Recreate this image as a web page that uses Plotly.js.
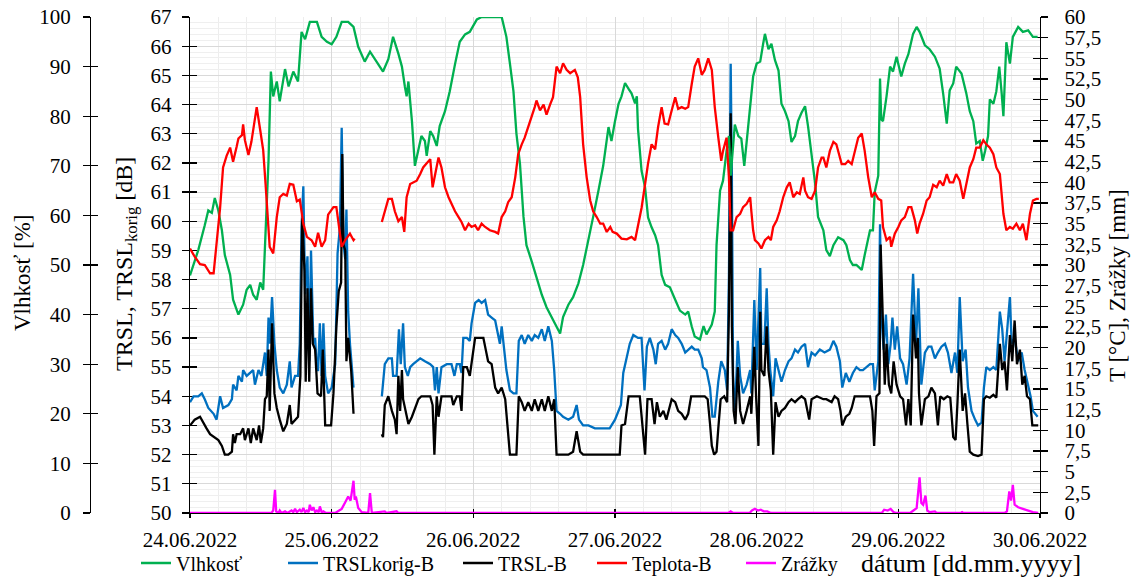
<!DOCTYPE html>
<html><head><meta charset="utf-8">
<script src="https://cdn.plot.ly/plotly-3.0.1.min.js"></script>
<style>body{margin:0;background:#fff}#chart{width:1138px;height:579px}</style>
</head><body><div id="chart"></div><script>
// hours since 24.06.2022 00:00 , value
const humidity = [[0,47.9],[1.4,53],[2.5,58],[3.1,61],[3.7,60.5],[4.2,63.5],[4.8,61],[5.4,57],[5.9,52],[6.8,48],[7.3,43],[8.2,40],[9.0,42],[9.6,45],[10.2,46],[10.7,44],[11.3,43],[11.9,46.5],[12.4,45],[12.7,54],[13.3,71],[13.7,89],[14.1,84],[14.7,87],[15.2,83],[16.1,89.5],[16.7,86],[17.5,89],[18.3,87],[18.9,97],[19.5,95.5],[20.3,99],[21.5,99],[22.3,96],[23.2,95],[24.0,94.5],[24.8,96],[25.7,99],[26.8,99],[27.7,98],[28.5,94],[29.6,91],[30.5,93],[31.6,91],[32.7,89],[33.6,91.5],[34.4,96],[35.3,92.6],[35.9,90],[36.4,86],[36.7,84],[37.0,87],[37.6,79],[38.1,70],[38.7,73],[39.2,76],[39.8,75],[40.1,72],[40.7,77],[41.2,76],[41.8,74],[42.3,78],[43.2,81],[44.0,85],[44.9,90.5],[45.7,95],[46.6,96.5],[47.4,97],[48.6,99.5],[49.4,100],[52.8,100],[53.6,96],[54.2,90.6],[54.8,85],[55.3,76.5],[55.9,70.4],[56.5,59.7],[57.0,54],[57.9,50.7],[58.7,47.5],[59.6,44],[60.4,41.5],[61.3,39.5],[62.1,37.6],[62.7,36.2],[63.2,39.5],[64.1,42],[64.9,43.5],[65.8,46.3],[66.6,50],[67.5,54.8],[68.3,59.7],[69.2,65],[70.0,70],[70.9,77.8],[71.4,75],[72.0,79],[72.6,82.5],[73.1,84],[73.7,86.7],[74.3,85.5],[74.8,84.6],[75.4,82.6],[75.7,84],[75.9,77.4],[76.5,69],[77.1,65.6],[77.6,59.6],[78.2,57.6],[78.8,56],[79.3,54],[79.9,48],[80.5,46],[81.3,45.5],[82.2,43],[83.0,40.8],[83.9,40],[84.4,40.6],[85.0,37.6],[85.5,35.6],[86.4,35],[87.0,37.7],[87.5,36],[88.4,38],[88.9,40.6],[89.2,54],[89.8,65],[90.3,67],[90.9,73],[91.3,76],[91.6,68],[92.3,78.3],[92.9,76],[93.4,75.5],[93.9,70],[94.6,78],[95.4,88],[96.0,90.6],[96.6,91],[97.1,94.6],[97.4,96.6],[98.0,93.5],[98.5,94.6],[99.1,91.3],[99.7,89.2],[100.2,82.5],[100.8,81],[101.4,79],[101.9,74.8],[102.5,76],[103.0,79],[103.6,80.7],[104.2,82],[104.7,78],[105.3,72],[105.9,66.5],[106.4,59.7],[107.3,57],[107.8,53],[108.4,51.8],[109.0,54],[109.8,55.6],[110.7,55],[111.2,54],[111.8,51],[112.3,50],[112.9,50],[113.8,49],[114.3,52],[115.2,57],[115.7,57],[116.0,64.7],[116.6,68],[116.9,87.6],[117.1,79.4],[117.4,79],[118.0,84],[118.6,90],[119.1,89],[119.7,92],[120.5,88],[121.1,90.6],[121.7,92.5],[122.5,96.6],[123.1,98],[123.6,97],[124.5,94.3],[125.3,93.5],[126.2,92],[127.0,89.6],[127.6,84.5],[128.2,78.5],[128.7,85.2],[129.3,86.6],[129.8,90],[130.7,88.6],[131.5,84.7],[132.1,81],[132.7,79],[133.2,74.5],[133.8,75],[134.3,71],[134.7,73],[135.2,76],[135.5,83.4],[136.1,82.5],[136.6,85],[137.1,90],[137.5,84.7],[137.8,80],[138.3,94.9],[138.9,90.6],[139.4,96],[140.3,98],[141.1,97],[142.0,97.3],[142.8,96],[143.6,96]];

const trslKorig = [[0,53.8],[0.6,54.0],[1.4,54.0],[2.0,54.1],[2.5,53.9],[3.1,53.6],[4.0,53.4],[4.5,53.2],[4.8,53.6],[5.1,54.0],[5.6,53.6],[6.5,53.7],[7.1,53.9],[7.3,54.4],[7.9,54.2],[8.2,54.7],[8.8,54.5],[9.0,54.9],[9.6,54.7],[10.2,54.8],[10.7,54.9],[11.0,54.4],[11.6,54.9],[12.1,54.7],[12.7,55.5],[13.0,54.7],[13.3,56.7],[13.5,55.8],[13.9,57.4],[14.3,55.8],[14.7,54.9],[15.2,54.3],[15.8,54.1],[16.4,54.4],[16.9,55.2],[17.2,54.3],[17.8,54.7],[18.3,54.7],[18.6,55.8],[18.9,59.8],[19.2,61.2],[19.5,57.5],[19.9,58.8],[20.2,55.2],[20.5,59.0],[20.9,55.8],[21.2,56.0],[21.5,54.9],[21.7,54.9],[22.0,56.5],[22.3,54.7],[22.6,56.5],[22.9,54.7],[23.4,54.1],[24.0,54.3],[24.6,55.1],[25.0,58.9],[25.4,59.8],[25.7,63.2],[26.0,59.2],[26.3,58.7],[26.5,60.4],[26.8,56.9],[27.1,55.8],[27.7,54.3],[30,null],[32.5,54.0],[33.0,55.1],[33.6,55.3],[34.2,55.3],[34.4,54.7],[35.0,54.7],[35.4,56.3],[35.7,55.1],[36.1,56.5],[36.4,55.0],[36.9,54.7],[37.3,55.0],[37.8,55.1],[38.4,55.2],[39.0,55.3],[39.8,55.2],[40.7,55.1],[41.2,55.0],[41.5,54.2],[41.8,55.0],[42.1,54.1],[42.6,55.0],[43.5,55.1],[44.3,55.1],[44.8,54.7],[45.2,55.1],[45.7,55.1],[46.0,54.8],[46.3,56.0],[46.9,56.0],[47.4,55.9],[47.7,56.5],[48.3,57.2],[48.9,57.3],[49.4,57.2],[50.0,57.3],[50.5,56.8],[51.1,56.7],[51.7,56.6],[52.0,56.3],[52.5,55.8],[52.8,56.4],[53.1,55.8],[53.6,54.9],[54.2,54.2],[54.8,54.1],[55.3,54.1],[55.7,55.9],[56.2,56.1],[56.7,55.8],[57.3,56.1],[57.9,55.9],[58.4,56.1],[59.0,56.0],[59.6,56.3],[60.1,55.9],[60.7,56.4],[61.3,55.9],[61.7,54.9],[62.1,53.5],[62.7,53.4],[63.2,53.3],[64.1,53.2],[64.9,53.3],[65.5,53.7],[65.9,53.2],[66.6,53.0],[67.5,53.0],[68.6,52.9],[69.7,52.9],[71.1,52.9],[72.0,53.2],[72.6,53.5],[73.0,53.7],[73.4,54.8],[74.0,55.3],[74.5,55.8],[75.1,56.1],[75.9,56.0],[76.5,56.0],[77.0,54.2],[77.4,55.7],[77.9,56.0],[78.5,55.6],[78.9,55.1],[79.3,55.8],[79.9,55.9],[80.5,55.6],[81.0,55.8],[81.6,56.3],[82.2,56.1],[82.7,56.0],[83.3,55.8],[83.9,55.5],[84.4,55.6],[85.0,55.7],[85.5,55.6],[86.1,55.6],[86.7,55.3],[86.9,55.0],[87.5,54.9],[88.1,54.3],[88.5,53.3],[88.9,53.3],[89.5,54.5],[90.0,55.2],[90.6,54.9],[91.0,54.2],[91.3,58.1],[91.6,65.4],[91.8,61.5],[92.0,54.7],[92.3,53.3],[92.8,55.9],[93.2,54.7],[93.7,54.1],[94.3,54.4],[94.9,54.9],[95.1,54.1],[95.6,57.3],[96.0,54.9],[96.6,58.4],[96.8,55.8],[97.3,55.8],[97.7,57.7],[98.0,55.8],[98.3,54.9],[98.8,54.0],[99.2,55.3],[99.7,54.9],[100.2,54.5],[100.8,54.9],[101.4,55.2],[101.9,55.3],[102.5,55.6],[103.0,55.5],[103.6,55.7],[104.2,55.8],[104.7,55.0],[105.3,55.5],[105.9,55.4],[106.7,55.6],[107.5,55.5],[108.4,55.6],[109.0,55.9],[109.5,55.7],[110.1,55.2],[110.5,54.3],[111.1,54.8],[111.7,54.5],[112.3,54.8],[112.9,55.0],[113.5,54.9],[114.0,54.9],[114.6,55.0],[115.2,55.1],[115.7,55.1],[116.0,54.2],[116.6,55.2],[116.9,59.9],[117.1,56.9],[117.5,55.6],[117.9,56.8],[118.3,55.1],[118.7,55.8],[119.0,56.7],[119.4,55.6],[119.8,56.4],[120.3,55.3],[120.8,55.1],[121.4,54.4],[121.9,55.3],[122.5,58.2],[123.0,55.8],[123.4,57.7],[123.9,54.4],[124.5,55.5],[125.1,55.7],[125.6,55.7],[126.2,55.3],[126.7,55.5],[127.3,55.7],[127.9,55.8],[128.4,55.5],[129.0,54.8],[129.6,55.5],[130.0,54.8],[130.4,57.4],[130.9,55.2],[131.4,55.6],[131.8,54.3],[132.4,53.5],[133.0,53.2],[133.5,53.0],[134.1,53.1],[134.5,54.3],[134.9,55.0],[135.5,54.9],[136.1,55.0],[136.6,54.9],[137.2,56.9],[137.6,56.3],[138.0,55.2],[138.4,56.3],[138.9,57.4],[139.2,55.8],[139.7,56.0],[140.3,55.2],[140.9,55.5],[141.4,54.9],[142.0,54.4],[142.4,54.0],[142.8,53.5],[143.6,53.3]];

const trsl = [[0,53.0],[0.8,53.2],[1.7,53.3],[2.3,53.05],[2.8,52.9],[3.4,52.7],[4.2,52.6],[4.8,52.5],[5.4,52.3],[5.9,52.0],[6.5,52.0],[7.1,52.1],[7.3,52.7],[7.6,52.4],[7.9,52.7],[8.5,52.7],[9.0,52.9],[9.3,52.5],[9.9,52.9],[10.3,52.4],[10.7,52.9],[11.3,52.5],[11.7,53.0],[12.0,52.4],[12.4,52.9],[12.7,53.9],[13.0,54.0],[13.3,55.6],[13.5,53.5],[13.9,56.5],[14.3,54.1],[14.7,53.6],[15.2,53.2],[15.8,52.8],[16.4,53.05],[16.9,53.7],[17.2,53.05],[17.8,53.2],[18.3,53.3],[18.7,54.7],[19.0,60.1],[19.4,58.3],[19.6,54.5],[19.9,57.7],[20.2,54.5],[20.5,57.7],[20.8,55.8],[21.2,55.6],[21.6,54.1],[22.2,54.0],[22.5,55.6],[22.9,53.0],[23.4,53.0],[23.9,53.0],[24.3,54.1],[24.8,56.4],[25.2,57.6],[25.6,57.9],[25.8,62.3],[26.0,59.2],[26.3,59.0],[26.5,55.2],[26.8,56.0],[27.3,54.9],[27.7,53.4],[30,null],[32.5,52.7],[32.7,52.6],[33.0,53.7],[33.6,54.0],[34.2,53.5],[34.7,53.2],[35.0,52.7],[35.3,54.7],[35.6,53.5],[35.9,54.9],[36.1,53.9],[36.5,53.5],[37.0,53.05],[37.6,53.3],[38.1,53.6],[38.7,53.9],[39.2,54.0],[40.1,54.0],[40.7,54.0],[41.1,53.7],[41.4,52.0],[41.8,54.0],[42.1,53.3],[42.6,54.0],[43.5,54.0],[44.3,54.0],[44.6,53.7],[45.2,54.0],[45.7,54.0],[46.0,53.5],[46.3,55.0],[46.9,55.0],[47.4,54.7],[47.8,55.3],[48.3,56.0],[49.1,56.0],[49.7,56.0],[50.1,55.6],[50.5,55.2],[51.1,55.1],[51.7,54.3],[52.2,54.1],[52.8,54.3],[53.4,53.9],[53.9,52.6],[54.2,52.0],[55.3,52.0],[55.7,54.0],[56.2,53.8],[56.7,53.5],[57.3,53.8],[57.9,53.5],[58.4,53.9],[59.0,53.5],[59.6,53.9],[60.1,53.5],[60.7,54.0],[61.3,53.5],[61.7,53.9],[62.1,52.0],[63.0,52.0],[64.1,52.0],[64.9,52.1],[65.5,52.8],[66.1,52.1],[66.6,52.0],[72.8,52.0],[73.1,53.0],[73.7,53.05],[74.3,54.0],[76.2,54.0],[76.7,52.9],[77.1,52.0],[77.5,53.9],[78.2,53.9],[78.7,53.05],[79.1,53.8],[79.6,53.3],[80.2,53.5],[80.7,53.2],[81.6,53.9],[82.2,53.8],[82.7,53.5],[83.3,53.4],[83.9,53.2],[84.4,53.4],[84.9,54.0],[87.2,54.0],[87.7,53.9],[88.1,53.05],[88.4,52.3],[88.8,52.0],[89.2,52.1],[89.5,52.9],[89.9,53.9],[90.5,54.0],[91.0,53.8],[91.3,56.9],[91.6,63.7],[91.8,56.4],[92.1,53.5],[92.4,53.05],[92.8,55.0],[93.2,53.5],[93.7,53.05],[94.3,53.5],[94.9,54.0],[95.1,53.4],[95.6,55.7],[95.9,54.0],[96.3,52.3],[96.6,56.9],[96.8,54.9],[97.3,54.7],[97.7,56.4],[98.0,54.9],[98.4,54.2],[98.8,52.0],[99.2,53.8],[99.7,53.3],[100.2,53.5],[100.8,53.6],[101.4,53.8],[101.9,53.9],[102.5,53.8],[103.0,53.9],[103.6,54.0],[104.2,53.9],[104.9,53.2],[105.3,53.9],[106.2,54.0],[107.3,53.9],[107.8,53.9],[108.7,53.8],[109.2,54.0],[109.8,53.9],[110.2,53.5],[110.5,53.0],[111.1,53.3],[111.7,53.4],[112.1,53.6],[112.6,54.0],[115.2,54.0],[115.6,53.5],[115.9,52.3],[116.3,54.0],[116.8,54.1],[117.0,59.2],[117.3,56.9],[117.7,54.4],[118.0,55.8],[118.4,54.4],[118.8,54.1],[119.2,55.2],[119.7,54.4],[120.3,54.0],[120.8,53.9],[121.3,53.0],[121.7,53.9],[122.1,53.0],[122.5,56.8],[123.0,55.3],[123.3,56.0],[123.5,54.1],[123.9,53.0],[124.5,53.9],[125.1,54.0],[125.6,54.3],[126.2,54.1],[126.7,53.0],[127.1,54.0],[127.7,53.9],[128.3,54.0],[128.8,53.95],[129.3,52.6],[129.7,52.5],[130.0,53.7],[130.4,55.6],[130.9,53.5],[131.3,54.1],[131.7,53.05],[132.1,52.1],[132.7,52.0],[133.5,51.95],[134.1,52.0],[134.5,53.9],[134.9,54.0],[135.5,53.95],[136.1,54.05],[136.6,53.95],[137.2,55.8],[137.6,54.9],[138.0,55.2],[138.4,54.2],[138.9,56.1],[139.3,55.2],[139.7,56.6],[140.1,55.1],[140.6,55.6],[141.0,54.4],[141.4,54.7],[141.8,54.0],[142.3,53.9],[142.7,53.0],[143.7,53.0]];

const teplota = [[0,32],[0.8,31],[1.7,30.1],[2.5,30],[3.4,29],[4.0,29],[4.5,32.6],[5.1,36.9],[5.6,41.8],[6.2,43.2],[6.8,44.2],[7.3,42.5],[7.9,44.3],[8.2,45.3],[8.8,45.7],[9.0,47],[9.3,45.1],[9.9,43.3],[10.4,44.9],[10.7,46.3],[11.3,49.1],[11.9,46.3],[12.4,43.9],[12.8,39.8],[13.2,35],[13.5,32.2],[14.1,31.4],[14.7,35.8],[15.2,38.2],[15.8,38.6],[16.4,38.4],[16.9,39.8],[17.5,39.7],[18.1,37.7],[18.6,37.9],[19.2,35],[19.8,33.4],[20.6,33],[21.2,32.2],[21.7,33.9],[22.3,32.2],[22.9,33],[23.4,36.1],[24.3,37],[24.8,37],[25.2,34.6],[25.7,32.2],[26.3,33],[27.1,33.8],[27.7,33],[27.9,33.2],[30,null],[32.5,35.2],[33.0,36.5],[33.6,38],[34.2,38],[34.7,36.5],[35.3,35.3],[35.9,35.8],[36.3,34],[36.7,38.2],[37.3,39.8],[37.8,40],[38.4,40.2],[39.0,41],[39.5,41.8],[40.1,42.3],[40.7,42.8],[41.1,39.4],[41.5,41],[42.1,43],[42.6,41.8],[43.2,39.4],[43.8,38.2],[44.3,37.4],[44.9,36.5],[45.5,35.8],[46.0,35.2],[46.6,34.2],[47.2,35],[47.7,34.6],[48.3,34.8],[48.8,34.2],[49.4,35],[50.0,34.6],[50.8,34.2],[51.7,34],[52.2,33.8],[52.8,35.8],[53.4,36.5],[53.9,37.6],[54.5,38.2],[55.1,40.6],[55.6,43.4],[56.2,44.6],[56.7,45.4],[57.3,46.7],[57.9,47.9],[58.4,49.1],[58.7,49.9],[59.3,48.7],[59.9,49.4],[60.4,48.2],[61.0,49.4],[61.5,50.3],[62.1,54],[62.7,53.2],[63.2,54.4],[63.8,53.6],[64.4,53.2],[65.2,53.6],[65.7,52.7],[66.1,50.3],[66.6,44.6],[67.2,40.6],[67.8,37.8],[68.3,36.5],[68.9,35.8],[69.5,35],[70.0,35],[70.6,34],[71.2,34.6],[71.6,34],[72.3,33.8],[73.1,33.2],[74.0,33.1],[74.8,33.4],[75.4,33],[75.9,34.6],[76.5,36.9],[77.1,39.8],[77.6,42.3],[78.2,44.6],[78.8,44],[79.3,46.7],[79.9,49.1],[80.4,47.1],[81.0,47],[81.6,48.7],[82.2,50.3],[82.7,48.9],[83.3,49.1],[83.9,48.9],[84.4,49.1],[85.0,51.9],[85.5,54],[86.1,55],[86.7,53],[87.2,53.6],[87.8,55],[88.4,53.6],[88.9,49.1],[89.5,45.4],[90.0,42.6],[90.3,43.8],[90.9,45.4],[91.3,40.6],[91.6,34.2],[92.0,34.2],[92.6,35.8],[93.2,36.2],[93.7,37],[94.3,37.4],[94.9,38.2],[95.1,36.5],[95.4,34.2],[95.7,33],[96.3,32.6],[96.8,32],[97.4,33],[98.0,33.4],[98.4,33],[98.8,34.6],[99.4,35.4],[99.9,36.5],[100.5,38.2],[101.1,39.4],[101.6,40],[102.2,38.2],[102.8,38.8],[103.3,38.6],[103.9,40.6],[104.2,39],[104.7,38.2],[105.3,38],[105.9,39],[106.4,41.8],[107.0,43],[107.3,43],[107.8,41.8],[108.4,43.8],[109.0,44.9],[109.5,44.6],[109.8,43.8],[110.4,42.2],[111.0,42.2],[111.5,42.6],[112.1,42.2],[112.6,43.8],[113.2,45.4],[113.8,45.9],[114.3,43.8],[114.9,40.6],[115.5,38.2],[116.0,38.8],[116.6,38],[117.1,37.8],[117.4,34.6],[118.0,33],[118.6,33.4],[118.8,32.2],[119.4,33.8],[120.0,34.6],[120.5,35.4],[121.1,35.8],[121.7,37],[122.2,37],[122.8,35.4],[123.2,33.8],[123.6,35],[124.2,36.2],[124.8,37.8],[125.3,38.2],[125.9,39.7],[126.5,39.4],[127.0,40.2],[127.6,39.6],[128.2,41],[128.7,40],[129.3,40],[129.8,41],[130.4,40.2],[131.0,38],[131.5,39.8],[132.1,41.8],[132.7,42.8],[133.2,44.2],[133.8,44.2],[134.4,45.1],[134.9,44.6],[135.5,44.2],[136.1,43.4],[136.6,41.8],[137.2,41],[137.8,36.2],[138.3,34.2],[138.9,34.6],[139.4,34.4],[140.0,35],[140.6,34.2],[141.1,35],[141.7,33],[142.3,36.2],[142.8,37.8],[143.4,38],[143.8,38]];

const zrazky = [[0,0],[13.8,0],[14.1,0.3],[14.4,2.8],[14.6,0.2],[15.0,0],[15.2,0.3],[15.5,0],[16.1,0.2],[16.5,0],[17.2,0.3],[17.5,0.1],[17.8,0.5],[18.1,0.1],[18.6,0.4],[18.9,0.1],[19.2,0.6],[19.5,0.1],[19.8,0.3],[20.1,0.1],[20.3,1.0],[20.6,0.3],[20.9,0.7],[21.2,0.1],[21.5,0.3],[21.8,0.1],[22.0,0.8],[22.3,0.1],[22.6,0.2],[23.0,0],[24.6,0],[25.0,0.2],[25.7,0.5],[26.3,1.3],[26.8,2.0],[27.2,1.5],[27.7,3.9],[27.9,1.6],[28.1,2.0],[28.5,0.6],[29.1,0.1],[30.2,0],[30.5,2.4],[30.8,0],[33.0,0.2],[33.3,0],[35.0,0.2],[35.3,0],[91.2,0],[91.6,0.2],[92.0,0],[94.8,0],[95.2,0.3],[95.7,0.5],[96.2,0.3],[96.7,0.4],[97.2,0.2],[97.8,0.2],[98.4,0],[117.2,0],[117.6,0.4],[118.2,0.3],[118.7,0.5],[119.2,0.1],[119.6,0],[122.0,0],[122.5,0.3],[123.1,0.6],[123.6,4.3],[123.9,1.2],[124.2,1.0],[124.6,2.1],[124.9,0.3],[125.3,0.1],[126.2,0.2],[126.5,0],[130.6,0],[130.8,0.1],[131.0,0],[138.0,0],[138.4,0.2],[138.8,2.6],[139.1,1.5],[139.4,3.4],[139.7,1.0],[140.3,0.7],[141.1,0.5],[142.0,0.3],[142.8,0.1],[143.7,0]];

const seriesNames = ['Vlhkosť','TRSLkorig-B','TRSL-B','Teplota-B','Zrážky'];
const seriesColors = ['#00b050','#0070c0','#000000','#ff0000','#ff00ff'];
const titleTexts = ['Vlhkosť [%]','TRSL, TRSL<sub>korig</sub> [dB]','T [°C], Zrážky [mm]','dátum [dd.mm.yyyy]'];
const startDay = Date.UTC(2022,5,24);

function toDate(h){
  const d = new Date(startDay + Math.round(h*3600000));
  return d.toISOString().slice(0,19).replace('T',' ');
}
const legendIds = ['legend','legend2','legend3','legend4','legend5'];
function mk(arr, i, yax){
  return {x: arr.map(p=>toDate(p[0])), y: arr.map(p=>p[1]), type:'scatter', mode:'lines',
    name: seriesNames[i], yaxis: yax, connectgaps:false, hoverinfo:'skip', legend: legendIds[i],
    line:{color: seriesColors[i], width:2.3}};
}
const serif = 'Liberation Serif, Times New Roman, serif';
const L=60, R=98, T=17, B=66;
const W = 1138-L-R, H = 579-T-B;
const px = v => (v-L)/W;          // pixel x -> paper x
const py = v => (579-B-v)/H;      // pixel y -> paper y
const xStart = px(190);
const humPos = px(90);

const data = [
  mk(humidity,0,'y2'),
  mk(trslKorig,1,'y'),
  mk(trsl,2,'y'),
  mk(teplota,3,'y3'),
  mk(zrazky,4,'y3'),
  {x:[],y:[],yaxis:'y4',showlegend:false,hoverinfo:'skip'},
  {x:[],y:[],yaxis:'y5',showlegend:false,hoverinfo:'skip'},
  {x:[],y:[],yaxis:'y6',showlegend:false,hoverinfo:'skip'},
  {x:[],y:[],xaxis:'x2',showlegend:false,hoverinfo:'skip'}
];
const axLine = {showline:true, linecolor:'#000', linewidth:1.3, tickcolor:'#000', tickwidth:1.3, layer:'below traces'};
const tickF = {family:serif, size:21, color:'#000'};
const layout = {
  width:1138, height:579, margin:{l:L,r:R,t:T,b:B,autoexpand:false}, paper_bgcolor:'#fff', plot_bgcolor:'#fff',
  separators:', ', showlegend:true, font:{family:serif,color:'#000'},
  xaxis: Object.assign({}, axLine, {domain:[xStart,1], type:'date', range:[toDate(0),toDate(144)],
    tick0:'2022-06-24', dtick:86400000, tickformat:'%d.%m.%Y', ticks:'outside', ticklen:4,
    tickfont:tickF, ticklabelstandoff:3, showgrid:true, gridcolor:'#d9d9d9', gridwidth:1,
    minor:{dtick:17280000, showgrid:true, gridcolor:'#ededed', ticks:''}, zeroline:false, anchor:'y', fixedrange:true}),
  xaxis2: Object.assign({}, axLine, {domain:[xStart,1], type:'date', overlaying:'x', anchor:'y', range:[toDate(0),toDate(144)],
    tick0:'2022-06-24', dtick:86400000, ticks:'inside', ticklen:4, showticklabels:false, showgrid:false, side:'bottom'}),
  yaxis: Object.assign({}, axLine, {range:[50,67], dtick:1, tick0:50, ticks:'outside', ticklen:7, tickfont:tickF,
    ticklabelstandoff:6, showgrid:true, gridcolor:'#d9d9d9', minor:{dtick:0.2, showgrid:true, gridcolor:'#efefef', ticks:''},
    zeroline:false, anchor:'x'}),
  yaxis4: Object.assign({}, axLine, {range:[50,67], dtick:1, tick0:50, ticks:'inside', ticklen:7, showticklabels:false,
    showgrid:false, zeroline:false, overlaying:'y', anchor:'x', side:'left'}),
  yaxis2: Object.assign({}, axLine, {range:[0,100], dtick:10, ticks:'outside', ticklen:7, tickfont:tickF,
    ticklabelstandoff:8, showgrid:false, zeroline:false, overlaying:'y', anchor:'free', position:humPos, side:'left'}),
  yaxis5: Object.assign({}, axLine, {range:[0,100], dtick:10, ticks:'inside', ticklen:7, showticklabels:false,
    showgrid:false, zeroline:false, overlaying:'y', anchor:'free', position:humPos, side:'left'}),
  yaxis3: Object.assign({}, axLine, {range:[0,60], dtick:2.5, tick0:0, ticks:'outside', ticklen:7, tickfont:tickF,
    ticklabelstandoff:12, showgrid:false, zeroline:false, overlaying:'y', anchor:'x', side:'right'}),
  yaxis6: Object.assign({}, axLine, {range:[0,60], dtick:2.5, tick0:0, ticks:'inside', ticklen:7, showticklabels:false,
    showgrid:false, zeroline:false, overlaying:'y', anchor:'x', side:'right'}),
  annotations:[
    {text:titleTexts[0], xref:'paper', yref:'paper', x:px(22), y:py(273), textangle:-90,
      xanchor:'center', yanchor:'middle', showarrow:false, font:{family:serif, size:23, color:'#000'}},
    {text:titleTexts[1], xref:'paper', yref:'paper', x:px(126), y:py(264), textangle:-90,
      xanchor:'center', yanchor:'middle', showarrow:false, font:{family:serif, size:24, color:'#000'}},
    {text:titleTexts[2], xref:'paper', yref:'paper', x:px(1117), y:py(286), textangle:-90,
      xanchor:'center', yanchor:'middle', showarrow:false, font:{family:serif, size:23, color:'#000'}},
    {text:titleTexts[3], xref:'paper', yref:'paper', x:px(971), y:py(563),
      xanchor:'center', yanchor:'middle', showarrow:false, font:{family:serif, size:26, color:'#000'}}
  ]
};
// one legend box per series, placed like the reference legend row
const legendLineStart = [143, 290, 465, 599, 748];
legendIds.forEach((id, i) => {
  layout[id] = {orientation:'h', x:px(legendLineStart[i]-7), xanchor:'left', y:py(563), yanchor:'middle',
    font:{family:serif, size:20, color:'#000'}, bgcolor:'rgba(0,0,0,0)', itemwidth:30};
});
Plotly.newPlot('chart', data, layout, {displayModeBar:false, staticPlot:true});
</script></body></html>
